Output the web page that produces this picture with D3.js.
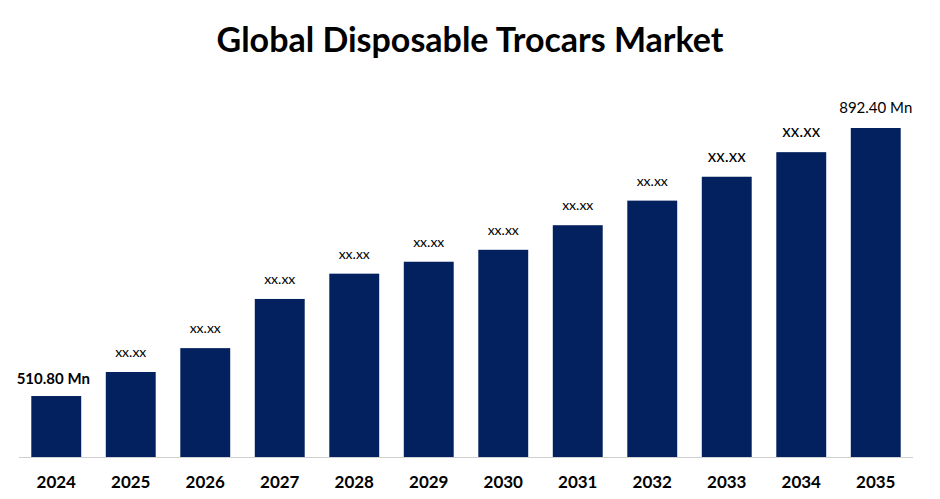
<!DOCTYPE html>
<html><head><meta charset="utf-8">
<script src="https://cdn.jsdelivr.net/npm/d3@7"></script>
<style>body{margin:0;background:#fff}</style></head>
<body><svg id="c" width="940" height="499"></svg>
<script>
const years=["2024","2025","2026","2027","2028","2029","2030","2031","2032","2033","2034","2035"];
const values=[510.8,545,579,649,685,702,719,754,789,823,858,892.4];
const labels=["510.80 Mn","xx.xx","xx.xx","xx.xx","xx.xx","xx.xx","xx.xx","xx.xx","xx.xx","xx.xx","xx.xx","892.40 Mn"];
const labelSizes=[15,14,14,14,14,14,14,14,14,17,17,15];
const labelWeights=["bold","normal","normal","normal","normal","normal","normal","normal","normal","normal","normal","normal"];
const svg=d3.select("#c");
const F="Lato, 'Open Sans', sans-serif";
const x=d3.scaleBand().domain(years).range([19,913]).paddingInner(0.33).paddingOuter(0.165);
const y=d3.scaleLinear().domain([424,892.4]).range([457,128]);
svg.append("text").attr("x",470).attr("y",52).attr("text-anchor","middle").attr("font-family",F).attr("font-weight","bold").attr("font-size",34).text("Global Disposable Trocars Market");
svg.selectAll("rect").data(values).join("rect").attr("x",(d,i)=>x(years[i])).attr("width",x.bandwidth()).attr("y",d=>y(d)).attr("height",d=>457-y(d)).attr("fill","#03215e");
svg.append("line").attr("x1",19).attr("x2",913).attr("y1",457.5).attr("y2",457.5).attr("stroke","#d0d0d0");
svg.selectAll("text.v").data(values).join("text").attr("class","v").attr("x",(d,i)=>i==0?x(years[i])+22:x(years[i])+x.bandwidth()/2).attr("y",(d,i)=>y(d)-(i==0?12:15)).attr("text-anchor","middle").attr("font-family",F).attr("font-size",(d,i)=>labelSizes[i]).attr("font-weight",(d,i)=>labelWeights[i]).text((d,i)=>labels[i]);
const ax=svg.append("g").attr("transform","translate(0,457)").call(d3.axisBottom(x).tickSize(0).tickPadding(19));
ax.select(".domain").remove();
ax.selectAll("text").attr("font-family",F).attr("font-weight","bold").attr("font-size",17).attr("fill","#000");
</script></body></html>
